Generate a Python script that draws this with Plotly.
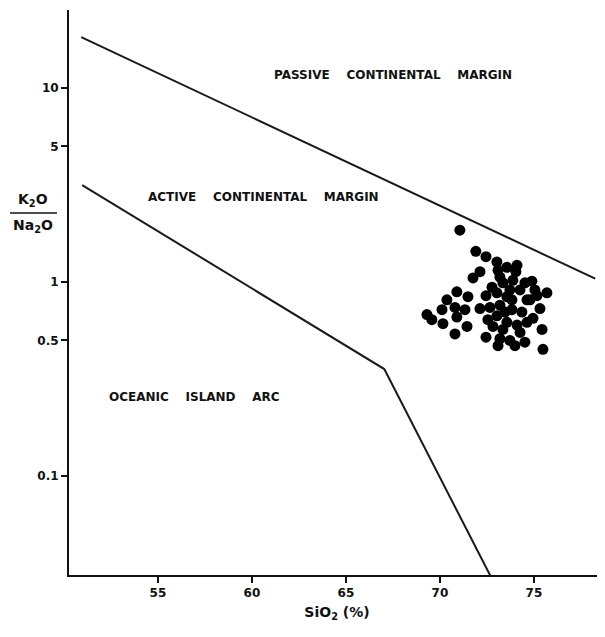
import math
import plotly.graph_objects as go

# Sample data: SiO2 (%) and K2O/Na2O
sio2 = [71.06, 71.91, 72.45, 72.13, 71.76, 73.09, 73.56, 74.10, 73.19, 74.89,
        75.69, 70.90, 71.49, 69.31, 70.11, 70.80, 72.13, 72.66, 70.16, 70.90,
        71.44, 72.55, 70.80, 72.45, 73.19, 73.72, 73.99, 74.52, 75.43, 75.48,
        74.95, 73.35, 73.88, 74.26, 73.03, 73.56, 74.63, 75.16, 73.19, 73.83,
        74.36, 73.03, 73.56, 74.10, 74.63, 73.35, 74.26, 72.82, 73.83, 72.77,
        74.04, 74.79, 75.32, 71.33, 69.57, 70.37, 73.46, 72.45, 74.52, 73.03,
        75.05, 73.72, 73.09]
k2o_na2o = [1.85, 1.44, 1.35, 1.13, 1.05, 1.15, 1.19, 1.22, 1.06, 1.01,
            0.88, 0.89, 0.84, 0.68, 0.72, 0.74, 0.73, 0.74, 0.61, 0.66,
            0.59, 0.64, 0.54, 0.52, 0.51, 0.50, 0.47, 0.49, 0.57, 0.45,
            0.65, 0.99, 1.02, 0.91, 0.88, 0.84, 0.81, 0.85, 0.76, 0.72,
            0.70, 0.67, 0.62, 0.60, 0.62, 0.57, 0.55, 0.59, 0.81, 0.94,
            1.13, 0.81, 0.73, 0.72, 0.64, 0.81, 0.70, 0.85, 0.99, 1.27,
            0.91, 0.91, 0.47]

# Field boundaries
upper_x = [50.92, 78.26]
upper_y = [18.3, 1.04]
lower_x = [50.97, 67.04, 72.73]
lower_y = [3.16, 0.356, 0.030]

# Field labels
field_names = ["PASSIVE CONTINENTAL MARGIN",
               "ACTIVE CONTINENTAL MARGIN",
               "OCEANIC ISLAND ARC"]
field_x = [67.5, 60.64, 56.97]
field_y = [11.7, 2.74, 0.255]

x_ticks = [55, 60, 65, 70, 75]
y_ticks = [0.1, 0.5, 1, 5, 10]
y_ticktext = ["0.1", "0.5", "1", "5", "10"]

FONT = "DejaVu Sans"
GAP = "&nbsp;&nbsp;&nbsp;&nbsp;"
INK = "#111"

fig = go.Figure()
fig.add_trace(go.Scatter(x=upper_x, y=upper_y, mode="lines",
                         line=dict(color="#1a1a1a", width=2), showlegend=False))
fig.add_trace(go.Scatter(x=lower_x, y=lower_y, mode="lines",
                         line=dict(color="#1a1a1a", width=2), showlegend=False))
fig.add_trace(go.Scatter(x=sio2, y=k2o_na2o, mode="markers",
                         marker=dict(color="black", size=11, line=dict(width=0)),
                         showlegend=False))

for name, fx, fy in zip(field_names, field_x, field_y):
    fig.add_annotation(x=fx, y=math.log10(fy), yref="y", xref="x",
                       text=name.replace(" ", GAP), xanchor="center",
                       showarrow=False,
                       font=dict(family=FONT, size=12, color=INK, weight="bold"))

# y axis title as fraction
fig.add_annotation(xref="paper", yref="paper", x=-0.0672, y=0.6637,
                   xanchor="center", yanchor="middle",
                   text="K<sub>2</sub>O", showarrow=False,
                   font=dict(family=FONT, size=14, color=INK, weight="bold"))
fig.add_annotation(xref="paper", yref="paper", x=-0.0672, y=0.6177,
                   xanchor="center", yanchor="middle",
                   text="Na<sub>2</sub>O", showarrow=False,
                   font=dict(family=FONT, size=14, color=INK, weight="bold"))
fig.add_shape(type="line", xref="paper", yref="paper",
              x0=-0.110, x1=-0.0224, y0=0.6407, y1=0.6407,
              line=dict(color=INK, width=1.5))

fig.update_layout(
    width=597, height=629,
    margin=dict(l=61, r=0, t=2, b=62),
    paper_bgcolor="white", plot_bgcolor="white",
    font=dict(family=FONT, size=12, color=INK),
    xaxis=dict(range=[50.27, 78.78], tickvals=x_ticks, ticks="outside",
               ticklen=6, tickwidth=1.5, tickcolor=INK,
               showline=True, linecolor=INK, linewidth=2,
               showgrid=False, zeroline=False,
               tickfont=dict(family=FONT, size=12, weight="bold"),
               title=dict(text="SiO<sub>2</sub> (%)",
                          font=dict(family=FONT, size=14, weight="bold"),
                          standoff=8)),
    yaxis=dict(type="log", range=[-1.510, 1.402], tickvals=y_ticks,
               ticktext=y_ticktext, ticks="outside", ticklen=6, tickwidth=1.5,
               tickcolor=INK, showline=True, linecolor=INK, linewidth=2,
               showgrid=False, zeroline=False,
               tickfont=dict(family=FONT, size=12, weight="bold")),
)

fig.write_html("out.html")
